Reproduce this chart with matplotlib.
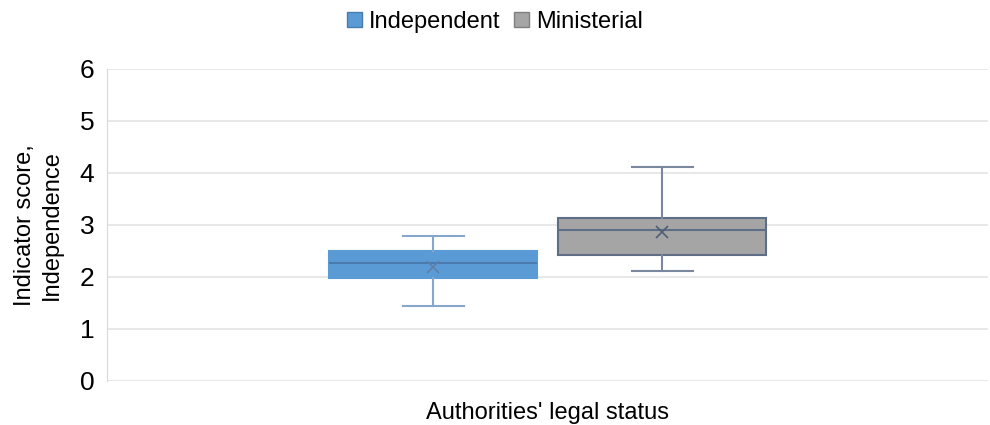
import matplotlib
matplotlib.use("Agg")
import matplotlib.pyplot as plt
from matplotlib.patches import Patch
from matplotlib import font_manager

# ---- data ----
groups = ["Independent", "Ministerial"]
whisker_low = [1.45, 2.12]
q1 = [1.98, 2.42]
medians = [2.26, 2.90]
q3 = [2.50, 3.13]
whisker_high = [2.79, 4.12]
means = [2.19, 2.87]
yticks = [0, 1, 2, 3, 4, 5, 6]
xlabel = "Authorities' legal status"
ylabel = "Indicator score,\nIndependence"

face_colors = ["#5B9BD5", "#A5A5A5"]
edge_colors = ["#5B9BD5", "#5F6E87"]
median_colors = ["#4A7BAE", "#5F6E87"]
whisker_colors = ["#86A6CB", "#7A889F"]
mean_colors = ["#5F7FA6", "#4F5D75"]

names = {f.name for f in font_manager.fontManager.ttflist}
fam = [f for f in ["Liberation Sans Narrow", "Arial Narrow", "Liberation Sans", "DejaVu Sans"] if f in names]
plt.rcParams["font.family"] = fam

fig = plt.figure(figsize=(9.9, 4.25), dpi=100)
ax = fig.add_axes([107/990, 1-381/425, (988-107)/990, (381-69)/425])

stats = []
for i, g in enumerate(groups):
    stats.append(dict(label=g, whislo=whisker_low[i], q1=q1[i], med=medians[i],
                      q3=q3[i], whishi=whisker_high[i], mean=means[i], fliers=[]))

positions = [1, 2]
for i, s in enumerate(stats):
    ax.bxp([s], positions=[positions[i]], widths=0.908, patch_artist=True,
           showmeans=True, showfliers=False, capwidths=0.266,
           boxprops=dict(facecolor=face_colors[i], edgecolor=edge_colors[i], linewidth=1.5),
           medianprops=dict(color=median_colors[i], linewidth=1.5),
           whiskerprops=dict(color=whisker_colors[i], linewidth=1.5),
           capprops=dict(color=whisker_colors[i], linewidth=1.5),
           meanprops=dict(marker="x", markeredgecolor=mean_colors[i], markersize=8,
                          markeredgewidth=1.2),
           zorder=3)

ax.set_xlim(-0.4236, 3.423)
ax.set_ylim(0, 6)
ax.set_yticks(yticks)
ax.set_xticks([])
ax.yaxis.grid(True, color="#E6E6E6", linewidth=1.3, zorder=0)
ax.set_axisbelow(True)
for sp in ["top", "right", "bottom"]:
    ax.spines[sp].set_visible(False)
ax.spines["left"].set_color("#D9D9D9")
ax.tick_params(axis="y", length=0, labelsize=19, pad=9, labelcolor="#000000")
ax.set_xlabel(xlabel, fontsize=17, labelpad=15)
ax.set_ylabel(ylabel, fontsize=17, labelpad=12, linespacing=1.3)

handles = [Patch(facecolor=face_colors[0], edgecolor="#4A7BAE"),
           Patch(facecolor=face_colors[1], edgecolor="#7F7F7F")]
fig.legend(handles, groups, loc="upper center", bbox_to_anchor=(0.5, 1.025), ncol=2,
           frameon=False, fontsize=17, handlelength=0.6, handleheight=0.6,
           handletextpad=0.3, columnspacing=0.6)

fig.savefig("out.png", dpi=100)
